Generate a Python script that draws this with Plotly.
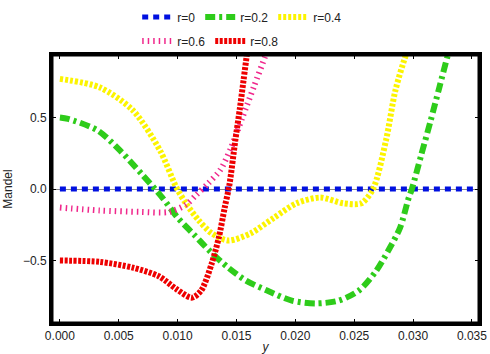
import plotly.graph_objects as go

# ---- data ----
x_r0 = [0.0, 0.0357]
y_r0 = [0.0, 0.0]

x_r02 = [0.0, 0.0007, 0.0032, 0.0051, 0.0070, 0.0087, 0.0100, 0.0114, 0.0128, 0.0143,
         0.0158, 0.0176, 0.0197, 0.0218, 0.0237, 0.0254, 0.0268, 0.0279, 0.0289, 0.0296,
         0.0299, 0.0307, 0.0315, 0.0322, 0.0329, 0.0332]
y_r02 = [0.50, 0.49, 0.41, 0.27, 0.10, -0.06, -0.20, -0.32, -0.44, -0.55,
         -0.64, -0.71, -0.78, -0.80, -0.78, -0.71, -0.58, -0.43, -0.27, -0.07,
         0.0, 0.24, 0.48, 0.70, 0.92, 1.0]

x_r04 = [0.0, 0.0034, 0.0062, 0.0085, 0.0099, 0.0107, 0.0118, 0.0129, 0.0143, 0.0162,
         0.0182, 0.0201, 0.0221, 0.0241, 0.0256, 0.0266, 0.0277, 0.0285, 0.0294, 0.0297]
y_r04 = [0.77, 0.71, 0.55, 0.27, 0.01, -0.10, -0.22, -0.31, -0.36, -0.31,
         -0.20, -0.10, -0.06, -0.10, -0.10, 0.0, 0.34, 0.69, 0.94, 1.0]

x_r06 = [0.0, 0.0034, 0.0068, 0.0093, 0.0107, 0.0116, 0.0126, 0.0136, 0.0145, 0.0155,
         0.0165, 0.0174, 0.0176]
y_r06 = [-0.13, -0.15, -0.16, -0.16, -0.11, -0.04, 0.04, 0.13, 0.28, 0.50,
         0.72, 0.92, 0.97]

x_r08 = [0.0, 0.0034, 0.0062, 0.0084, 0.0099, 0.0112, 0.0120, 0.0129, 0.0135, 0.0140,
         0.0144, 0.0149, 0.0153, 0.0156, 0.0159, 0.0160]
y_r08 = [-0.50, -0.51, -0.55, -0.61, -0.70, -0.76, -0.71, -0.52, -0.34, -0.13,
         0.03, 0.34, 0.57, 0.76, 0.95, 1.0]

x_ticks = [0.0, 0.005, 0.010, 0.015, 0.020, 0.025, 0.030, 0.035]
y_ticks = [-0.5, 0.0, 0.5]

FONT = "Liberation Sans, Arial, sans-serif"

fig = go.Figure()
fig.add_trace(go.Scatter(x=x_r0, y=y_r0, mode="lines", name="r=0",
                         line=dict(color="#0010e0", width=5, dash="6px,5px"),
                         legend="legend"))
fig.add_trace(go.Scatter(x=x_r02, y=y_r02, mode="lines", name="r=0.2",
                         line=dict(color="#2ecc1a", width=6, dash="10px,4px,3px,4px",
                                   shape="spline", smoothing=0.8),
                         legend="legend"))
fig.add_trace(go.Scatter(x=x_r04, y=y_r04, mode="lines", name="r=0.4",
                         line=dict(color="#fcf400", width=6, dash="3px,2px",
                                   shape="spline", smoothing=0.8),
                         legend="legend"))
fig.add_trace(go.Scatter(x=x_r06, y=y_r06, mode="lines", name="r=0.6",
                         line=dict(color="#f0288c", width=6, dash="1.5px,4px",
                                   shape="spline", smoothing=0.8),
                         legend="legend2"))
fig.add_trace(go.Scatter(x=x_r08, y=y_r08, mode="lines", name="r=0.8",
                         line=dict(color="#ee0000", width=6, dash="3px,1.5px",
                                   shape="spline", smoothing=0.8),
                         legend="legend2"))

axis_common = dict(showline=True, linecolor="black", linewidth=3, mirror="ticks",
                   ticks="inside", ticklen=4, tickcolor="black", showgrid=False,
                   automargin=False, ticklabeloverflow="allow",
                   tickfont=dict(family=FONT, size=12, color="#222"))

fig.update_xaxes(range=[-0.00067, 0.0356], tickvals=x_ticks, tickformat=".3f",
                 zeroline=False,
                 title=dict(text="<i>y</i>", font=dict(family=FONT, size=12, color="#222"),
                            standoff=6),
                 **axis_common)
fig.update_yaxes(range=[-0.937, 0.937], tickvals=y_ticks, tickformat=".1f",
                 zeroline=True, zerolinecolor="#888", zerolinewidth=1,
                 title=dict(text="Mandel", font=dict(family=FONT, size=12, color="#222"),
                            standoff=8),
                 **axis_common)

fig.update_layout(
    width=490, height=354,
    margin=dict(l=52, r=11, t=55, b=31, autoexpand=False),
    paper_bgcolor="white", plot_bgcolor="white",
    font=dict(family=FONT, size=12, color="#222"),
    shapes=[dict(type="rect", xref="paper", yref="paper", x0=0, y0=0, x1=1, y1=1,
                 line=dict(color="black", width=3), fillcolor="rgba(0,0,0,0)",
                 layer="above")],
    legend=dict(orientation="h", xref="container", yref="container",
                x=0.28, xanchor="left", y=1 - 17 / 354, yanchor="middle",
                font=dict(family=FONT, size=12, color="#222"),
                bgcolor="rgba(0,0,0,0)", itemwidth=30, tracegroupgap=0),
    legend2=dict(orientation="h", xref="container", yref="container",
                 x=0.28, xanchor="left", y=1 - 41 / 354, yanchor="middle",
                 font=dict(family=FONT, size=12, color="#222"),
                 bgcolor="rgba(0,0,0,0)", itemwidth=30),
)

fig.write_html("out.html")
